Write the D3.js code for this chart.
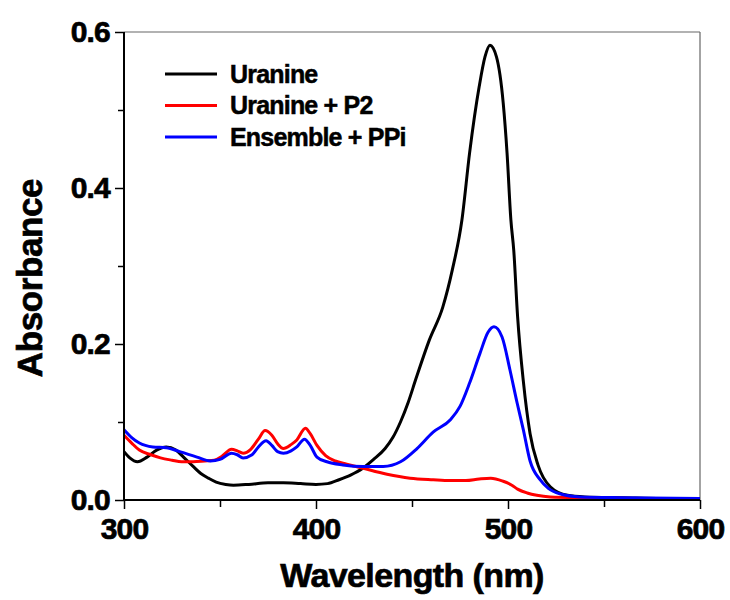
<!DOCTYPE html>
<html>
  <head>
    <meta charset="UTF-8">
    <title>Absorbance spectra</title>
    <script src="https://d3js.org/d3.v7.min.js"></script>
    <style>
      body { margin: 0; background: #fff; }
      text { font-family: "Liberation Sans", Arial, sans-serif; font-weight: bold; }
    </style>
  </head>
  <body>
    <div id="chart-container"></div>
  <script type="text/javascript">

    // Uranine (black)
    const uranineWl  = [300, 303, 307, 312, 317, 322, 327, 331, 336, 340, 344, 348, 353, 357, 365, 375, 383, 392, 400, 406, 412, 418, 424, 430, 436, 440, 444, 448, 452, 459, 466, 471, 476, 480, 485, 488, 490.6, 494, 497.5, 499.5, 501.5, 503, 505, 508, 511.5, 515.6, 522, 531, 540, 560, 580, 600];
    const uranineAbs = [0.062, 0.054, 0.049, 0.055, 0.064, 0.068, 0.064, 0.055, 0.043, 0.034, 0.028, 0.023, 0.020, 0.019, 0.020, 0.022, 0.022, 0.021, 0.020, 0.021, 0.026, 0.032, 0.040, 0.052, 0.066, 0.080, 0.100, 0.125, 0.155, 0.205, 0.247, 0.295, 0.359, 0.445, 0.530, 0.568, 0.583, 0.568, 0.509, 0.445, 0.359, 0.320, 0.235, 0.152, 0.085, 0.045, 0.017, 0.006, 0.004, 0.003, 0.002, 0.002];

    // Uranine + P2 (red)
    const p2Wl  = [300, 304, 308, 314, 319, 325, 330, 336, 342, 347, 351, 356, 359, 362, 366, 370, 373.5, 377, 380, 383, 387, 390, 394.5, 397, 400.5, 405, 410, 416, 424, 437, 449, 461, 470, 478, 485, 491, 497.5, 502, 505, 510, 515, 522, 540, 570, 600];
    const p2Abs = [0.083, 0.073, 0.064, 0.058, 0.054, 0.051, 0.049, 0.049, 0.050, 0.051, 0.056, 0.065, 0.063, 0.060, 0.065, 0.078, 0.089, 0.083, 0.072, 0.066, 0.071, 0.077, 0.092, 0.085, 0.070, 0.057, 0.050, 0.046, 0.041, 0.033, 0.028, 0.026, 0.025, 0.025, 0.027, 0.028, 0.024, 0.019, 0.014, 0.009, 0.006, 0.004, 0.003, 0.002, 0.002];

    // Ensemble + PPi (blue)
    const ppiWl  = [300, 304, 308, 315, 322, 329, 338, 345, 350, 356, 359, 362, 366.7, 370, 374, 377, 380, 383, 387, 390, 394, 397, 400.5, 405.7, 414, 424.5, 435, 444, 452.6, 461, 470, 475, 480, 485.4, 489.6, 492.7, 496.9, 501, 504.7, 508, 511.5, 516.7, 521, 527, 537.5, 560, 600];
    const ppiAbs = [0.090, 0.080, 0.073, 0.068, 0.067, 0.062, 0.055, 0.050, 0.052, 0.060, 0.058, 0.054, 0.058, 0.068, 0.076, 0.070, 0.062, 0.060, 0.063, 0.068, 0.078, 0.070, 0.055, 0.049, 0.045, 0.043, 0.043, 0.049, 0.066, 0.087, 0.103, 0.120, 0.150, 0.188, 0.215, 0.222, 0.209, 0.167, 0.125, 0.090, 0.050, 0.026, 0.015, 0.008, 0.004, 0.003, 0.002];

    const seriesNames = ["Uranine", "Uranine + P2", "Ensemble + PPi"];
    const seriesColours = ["#000000", "#ff0000", "#0000ff"];

    const xMajorTicks = [300, 400, 500, 600];
    const xMinorTicks = [350, 450, 550];
    const yMajorTicks = [0.0, 0.2, 0.4, 0.6];
    const yMinorTicks = [0.1, 0.3, 0.5];

    const series = [
        {name: seriesNames[0], colour: seriesColours[0], values: uranineWl.map((w, i) => ({wl: w, abs: uranineAbs[i]}))},
        {name: seriesNames[1], colour: seriesColours[1], values: p2Wl.map((w, i) => ({wl: w, abs: p2Abs[i]}))},
        {name: seriesNames[2], colour: seriesColours[2], values: ppiWl.map((w, i) => ({wl: w, abs: ppiAbs[i]}))}
    ];

    // Chart area
    const width = 730;
    const height = 600;
    const margin = ({top: 32, right: 30, bottom: 100, left: 124});

    const x = d3.scaleLinear()
        .domain([300, 600])
        .range([margin.left, width - margin.right]);

    const y = d3.scaleLinear()
        .domain([0, 0.6])
        .range([height - margin.bottom, margin.top]);

    const svg = d3.select("#chart-container")
        .append("svg")
        .attr("width", width)
        .attr("height", height);

    // Top and right frame lines (thin, grey)
    svg.append("line")
        .attr("x1", x(300)).attr("x2", x(600))
        .attr("y1", y(0.6)).attr("y2", y(0.6))
        .attr("stroke", "#666").attr("stroke-width", 1.2);
    svg.append("line")
        .attr("x1", x(600)).attr("x2", x(600))
        .attr("y1", y(0.6)).attr("y2", y(0))
        .attr("stroke", "#666").attr("stroke-width", 1.2);

    // Curves
    const line = d3.line()
        .x(d => x(d.wl))
        .y(d => y(d.abs))
        .curve(d3.curveMonotoneX);

    svg.append("g")
        .selectAll("path")
        .data(series)
        .join("path")
        .attr("d", d => line(d.values))
        .attr("fill", "none")
        .attr("stroke", d => d.colour)
        .attr("stroke-width", 3)
        .attr("stroke-linejoin", "round");

    // bold-ish text, the original looks heavier than plain bold
    const heavy = sel => sel
        .attr("fill", "#000")
        .attr("stroke", "#000")
        .attr("stroke-width", 0.7)
        .attr("font-family", "Liberation Sans, Arial, sans-serif")
        .attr("font-weight", "bold");

    // X axis
    const xAxis = g => g
        .attr("transform", `translate(0,${y(0)})`)
        .call(d3.axisBottom(x).tickValues(xMajorTicks).tickSize(9).tickPadding(9).tickFormat(d3.format("d")))
        .call(g => g.select(".domain").attr("stroke-width", 2).attr("d", `M${x(300)},0H${x(600)}`))
        .call(g => g.selectAll(".tick line").attr("stroke-width", 1.5))
        .call(g => g.selectAll(".tick text").attr("font-size", 30).attr("letter-spacing", -0.8).call(heavy));

    const xMinor = g => g
        .attr("transform", `translate(0,${y(0)})`)
        .call(d3.axisBottom(x).tickValues(xMinorTicks).tickSize(7).tickFormat(""))
        .call(g => g.select(".domain").remove())
        .call(g => g.selectAll(".tick line").attr("stroke-width", 1.5));

    // Y axis
    const yAxis = g => g
        .attr("transform", `translate(${x(300)},0)`)
        .call(d3.axisLeft(y).tickValues(yMajorTicks).tickSize(9).tickPadding(5).tickFormat(d3.format(".1f")))
        .call(g => g.select(".domain").attr("stroke-width", 2).attr("d", `M0,${y(0) + 1}V${y(0.6)}`))
        .call(g => g.selectAll(".tick line").attr("stroke-width", 1.5))
        .call(g => g.selectAll(".tick text").attr("font-size", 30).attr("letter-spacing", -0.8).call(heavy));

    const yMinor = g => g
        .attr("transform", `translate(${x(300)},0)`)
        .call(d3.axisLeft(y).tickValues(yMinorTicks).tickSize(6).tickFormat(""))
        .call(g => g.select(".domain").remove())
        .call(g => g.selectAll(".tick line").attr("stroke-width", 1.5));

    for (const axis of [xMinor, yMinor, xAxis, yAxis]) {
        svg.append("g").call(axis);
    }

    // Axis titles
    svg.append("text")
        .attr("x", (x(300) + x(600)) / 2)
        .attr("y", 587)
        .attr("text-anchor", "middle")
        .attr("font-size", 34)
        .attr("letter-spacing", -0.6)
        .call(heavy)
        .text("Wavelength (nm)");

    svg.append("text")
        .attr("transform", `translate(42,${(y(0) + y(0.6)) / 2 + 12}) rotate(-90)`)
        .attr("text-anchor", "middle")
        .attr("font-size", 35)
        .attr("letter-spacing", -0.4)
        .call(heavy)
        .text("Absorbance");

    // Legend
    const legend = svg.append("g")
        .selectAll("g")
        .data(series)
        .join("g")
        .attr("transform", (d, i) => `translate(165,${74 + i * 31.5})`);

    legend.append("line")
        .attr("x1", 0).attr("x2", 52)
        .attr("stroke", d => d.colour)
        .attr("stroke-width", 3);

    legend.append("text")
        .attr("x", 65)
        .attr("dy", "0.35em")
        .attr("font-size", 25)
        .attr("letter-spacing", -0.8)
        .call(heavy)
        .attr("stroke-width", 0.5)
        .text(d => d.name);
  </script>
  </body>
</html>
